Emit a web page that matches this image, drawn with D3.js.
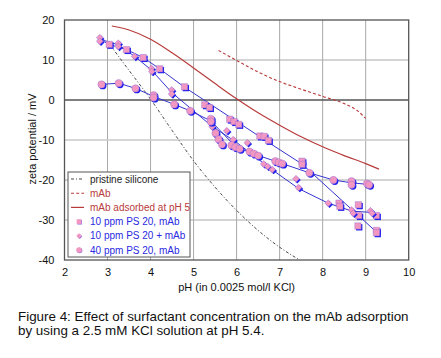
<!DOCTYPE html>
<html><head><meta charset="utf-8">
<script src="https://cdn.jsdelivr.net/npm/d3@7"></script>
<style>body{margin:0;background:#fff}svg{display:block;font-family:"Liberation Sans",Arial,sans-serif}</style>
</head><body><svg id="c" width="441" height="358"></svg>
<script>
const xTicks=[2,3,4,5,6,7,8,9,10];
const yTicks=[20,10,0,-10,-20,-30,-40];
const legendLabels=["pristine silicone","mAb","mAb adsorbed at pH 5","10 ppm PS 20, mAb","10 ppm PS 20 + mAb","40 ppm PS 20, mAb"];
const pristine=[[3.07,13.6],[3.5,7.4],[4.0,0.2],[4.5,-7.6],[5.0,-15.2],[5.5,-21.8],[6.0,-27.6],[6.5,-32.6],[7.0,-36.8],[7.45,-39.9]];
const mAb=[[5.58,12.4],[6.0,9.9],[6.5,7.0],[7.0,4.6],[7.5,2.7],[8.0,0.9],[8.5,-0.9],[8.8,-2.6],[9.0,-4.6]];
const mAbAds=[[3.1,18.5],[3.5,17.5],[4.0,15.2],[4.5,11.8],[5.0,8.0],[5.5,4.1],[6.0,0.3],[6.5,-3.2],[7.0,-6.3],[7.5,-9.2],[8.0,-11.7],[8.5,-13.9],[9.0,-15.9],[9.31,-17.3]];
const sq=[[3.04,13.9],[3.44,12.6],[3.83,10.6],[4.21,7.8],[4.79,3.3],[5.26,-1.2],[5.37,-1.9],[5.84,-4.8],[5.94,-5.4],[6.05,-6.1],[6.54,-9.0],[6.64,-9.1],[6.74,-10.1],[7.52,-15.3],[7.52,-16.1],[8.38,-25.8],[8.4,-26.6],[8.83,-26.2],[8.84,-28.9],[8.82,-31.5],[9.25,-28.9],[9.25,-32.6],[9.25,-33.2]];
const dia=[[2.82,15.6],[2.82,14.7],[3.25,14.2],[3.25,13.4],[3.63,10.9],[4.02,7.9],[4.03,7.1],[4.49,2.5],[4.49,1.5],[5.43,-6.7],[5.77,-7.7],[5.92,-9.9],[6.25,-10.7],[6.63,-16.0],[6.72,-16.6],[6.83,-17.4],[7.38,-19.7],[7.44,-21.9],[8.13,-25.8],[8.67,-27.5],[8.71,-28.3],[9.11,-27.7],[9.15,-28.3]];
const circ=[[2.86,3.9],[3.26,4.2],[3.65,2.9],[4.07,1.2],[4.07,0.6],[4.55,-1.1],[4.92,-2.7],[5.4,-4.7],[5.4,-5.4],[5.51,-8.3],[5.58,-9.8],[5.66,-11.1],[5.88,-11.3],[5.97,-11.8],[6.07,-12.2],[6.3,-12.9],[6.4,-13.4],[6.5,-13.9],[6.9,-15.3],[6.98,-15.6],[7.06,-15.9],[7.69,-18.2],[8.25,-20.0],[8.67,-20.3],[8.67,-21.2],[9.03,-20.9],[9.08,-21.2]];
const sqLine=[[2.85,15.0],[3.04,13.9],[3.44,12.6],[3.83,10.6],[4.21,7.8],[4.79,3.2],[6.74,-10.6],[7.52,-16.0],[9.25,-33.0]];
const diaLine=[[2.82,15.2],[3.25,13.8],[3.63,10.9],[4.02,7.5],[4.49,1.9],[5.43,-6.6],[6.0,-10.6],[6.77,-17.0],[7.45,-22.2],[8.13,-25.8],[8.69,-27.8],[9.14,-28.1],[9.25,-29.0]];
const circLine=[[2.86,3.9],[3.26,4.2],[3.65,2.9],[4.07,0.9],[4.55,-1.1],[4.92,-2.7],[5.4,-5.2],[5.97,-11.6],[6.4,-13.5],[6.98,-15.6],[7.69,-18.2],[8.25,-20.0],[8.67,-20.7],[9.05,-21.1]];

const svg=d3.select("#c");
const x=d3.scaleLinear().domain([2,10]).range([64.5,408.7]);
const y=d3.scaleLinear().domain([-40,20]).range([260,20]);
const blue="#3535d0", pink="#f296c2", shadow="#2020ee", red="#b83b3b";

const g=svg.append("g");
g.selectAll(".vg").data(xTicks.slice(1,-1)).join("line")
 .attr("x1",d=>x(d)).attr("x2",d=>x(d)).attr("y1",y(20)).attr("y2",y(-40))
 .attr("stroke","#a8a8a8").attr("stroke-width",1);
g.selectAll(".hg").data(yTicks.slice(1,-1)).join("line")
 .attr("x1",x(2)).attr("x2",x(10)).attr("y1",d=>y(d)).attr("y2",d=>y(d))
 .attr("stroke",d=>d===0?"#555":(d===-10?"#c8c8c8":"#a8a8a8")).attr("stroke-width",d=>d===0?1.3:(d===-10?1.6:1));
g.append("rect").attr("x",x(2)).attr("y",y(20)).attr("width",x(10)-x(2)).attr("height",y(-40)-y(20))
 .attr("fill","none").attr("stroke","#555").attr("stroke-width",1.3);

const xa=svg.append("g").attr("transform",`translate(0,${y(-40)})`)
 .call(d3.axisBottom(x).tickValues(xTicks).tickFormat(d3.format("d")).tickSize(0).tickPadding(8));
const ya=svg.append("g").attr("transform",`translate(${x(2)},0)`)
 .call(d3.axisLeft(y).tickValues(yTicks).tickFormat(d=>d<0?"-"+Math.abs(d):d).tickSize(0).tickPadding(10));
[xa,ya].forEach(a=>{a.select(".domain").remove();a.selectAll("text").attr("font-size",11).attr("fill","#111").attr("font-family","Liberation Sans, Arial, sans-serif");});

svg.append("text").attr("x",(x(2)+x(10))/2).attr("y",291).attr("text-anchor","middle")
 .attr("font-size",11).attr("fill","#111").text("pH (in 0.0025 mol/l KCl)");
svg.append("text").attr("transform",`translate(36,139) rotate(-90)`).attr("text-anchor","middle")
 .attr("font-size",11).attr("fill","#111").text("zeta potential / mV");

const line=d3.line().x(d=>x(d[0])).y(d=>y(d[1]));
const smooth=d3.line().x(d=>x(d[0])).y(d=>y(d[1])).curve(d3.curveMonotoneX);
svg.append("path").attr("d",smooth(pristine)).attr("fill","none").attr("stroke","#333").attr("stroke-width",0.9).attr("stroke-dasharray","3,2,1,2");
svg.append("path").attr("d",smooth(mAb)).attr("fill","none").attr("stroke",red).attr("stroke-width",1.1).attr("stroke-dasharray","3,2.2");
svg.append("path").attr("d",smooth(mAbAds)).attr("fill","none").attr("stroke",red).attr("stroke-width",1.2);

[sqLine,diaLine,circLine].forEach(L=>svg.append("path").attr("d",line(L)).attr("fill","none").attr("stroke",blue).attr("stroke-width",1));

const symSq=d3.symbol().type(d3.symbolSquare).size(40);
const symDia=d3.symbol().type(d3.symbolDiamond2).size(30);
const symCirc=d3.symbol().type(d3.symbolCircle).size(42);
function markers(data,sym){
  const mg=svg.append("g");
  mg.selectAll(".s").data(data).join("path").attr("d",sym())
    .attr("transform",d=>`translate(${x(d[0])+1.3},${y(d[1])+1.3})`).attr("fill",shadow);
  mg.selectAll(".p").data(data).join("path").attr("d",sym())
    .attr("transform",d=>`translate(${x(d[0])},${y(d[1])})`).attr("fill",pink).attr("stroke","#8a6ad8").attr("stroke-width",0.4);
}
markers(sq,symSq); markers(dia,symDia); markers(circ,symCirc);

const lg=svg.append("g");
lg.append("rect").attr("x",68).attr("y",172).attr("width",122).attr("height",85).attr("fill","#fff").attr("stroke","#555").attr("stroke-width",1);
const ly=[179,193.2,207.4,221.6,235.8,250];
const lcol=["#222",red,red,"#2a2ae0","#2a2ae0","#2a2ae0"];
legendLabels.forEach((t,i)=>{
  lg.append("text").attr("x",90).attr("y",ly[i]+3.6).attr("font-size",10).attr("fill",lcol[i]).text(t);
});
lg.append("line").attr("x1",71).attr("x2",84).attr("y1",ly[0]).attr("y2",ly[0]).attr("stroke","#333").attr("stroke-width",0.9).attr("stroke-dasharray","3,2,1,2");
lg.append("line").attr("x1",71).attr("x2",84).attr("y1",ly[1]).attr("y2",ly[1]).attr("stroke",red).attr("stroke-width",1.1).attr("stroke-dasharray","3,2.2");
lg.append("line").attr("x1",71).attr("x2",84).attr("y1",ly[2]).attr("y2",ly[2]).attr("stroke",red).attr("stroke-width",1.2);
const lsyms=[d3.symbol().type(d3.symbolSquare).size(22),d3.symbol().type(d3.symbolDiamond2).size(18),d3.symbol().type(d3.symbolCircle).size(24)];
lsyms.forEach((s,i)=>{
  lg.append("path").attr("d",s()).attr("transform",`translate(${79.6},${ly[i+3]+0.6})`).attr("fill","#9a70e0");
  lg.append("path").attr("d",s()).attr("transform",`translate(${79},${ly[i+3]})`).attr("fill",pink);
});

const cap=svg.append("text").attr("font-size",13.4).attr("fill","#111");
cap.append("tspan").attr("x",18).attr("y",321).text("Figure 4: Effect of surfactant concentration on the mAb adsorption");
cap.append("tspan").attr("x",18).attr("y",335).text("by using a 2.5 mM KCl solution at pH 5.4.");
</script></body></html>
